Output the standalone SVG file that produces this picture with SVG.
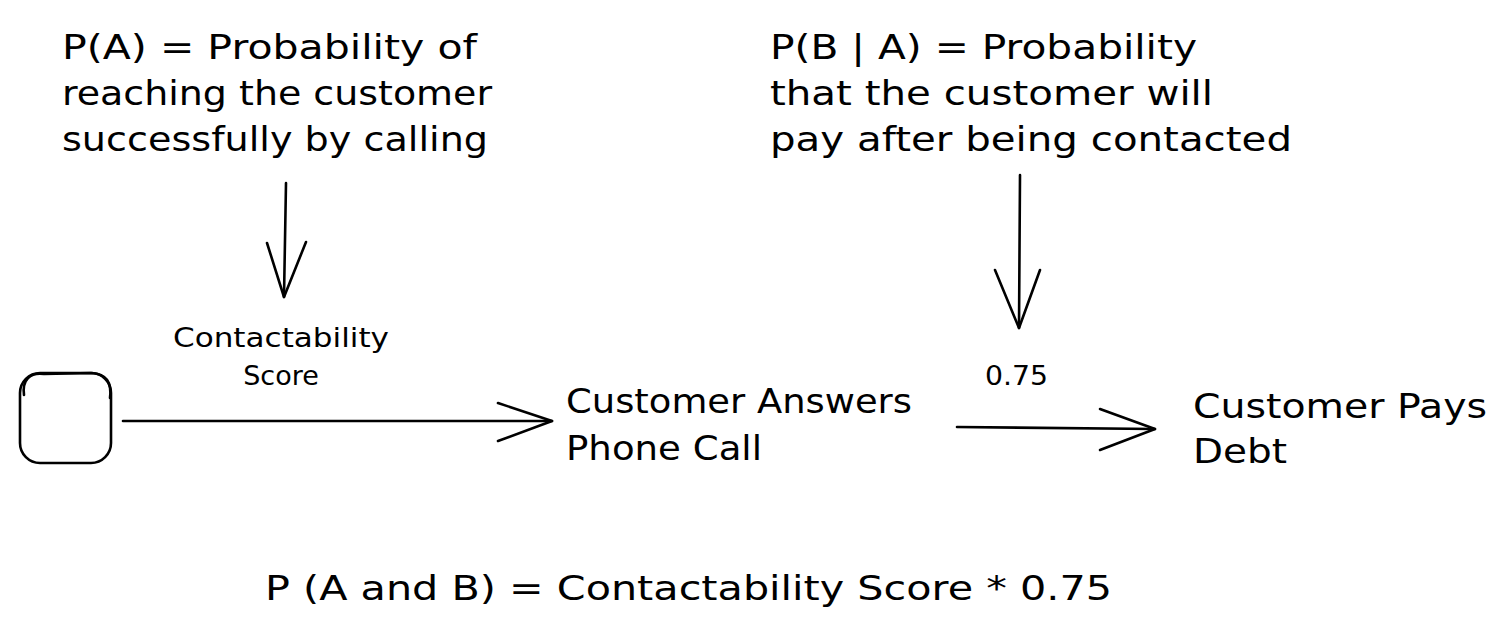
<svg xmlns="http://www.w3.org/2000/svg" width="1506" height="630" viewBox="0 0 1506 630">
<style>
.t{font-family:"DejaVu Sans","Liberation Sans",sans-serif;fill:#000000}
.big{font-size:34px}
.small{font-size:27px}
.s{fill:none;stroke:#000000;stroke-width:2.6;stroke-linecap:round;stroke-linejoin:round}
</style>
<rect width="1506" height="630" fill="#ffffff"/>
<g id="note-pa">
<text class="t big" x="62" y="59" textLength="415" lengthAdjust="spacingAndGlyphs">P(A) = Probability of</text>
<text class="t big" x="62" y="105" textLength="430" lengthAdjust="spacingAndGlyphs">reaching the customer</text>
<text class="t big" x="62" y="151" textLength="426" lengthAdjust="spacingAndGlyphs">successfully by calling</text>
</g>
<g id="note-pba">
<text class="t big" x="770" y="59" textLength="427" lengthAdjust="spacingAndGlyphs">P(B | A) = Probability</text>
<text class="t big" x="770" y="105" textLength="443" lengthAdjust="spacingAndGlyphs">that the customer will</text>
<text class="t big" x="770" y="151" textLength="522" lengthAdjust="spacingAndGlyphs">pay after being contacted</text>
</g>
<g id="start">
<rect class="s" x="20" y="373" width="91" height="90" rx="20"/>
<path class="s" d="M24 395 C22 380 30 372 44 374 L92 373 C106 374 112 382 110 398" stroke-width="1.2"/>
</g>
<g id="answers">
<text class="t big" x="566" y="413" textLength="346" lengthAdjust="spacingAndGlyphs">Customer Answers</text>
<text class="t big" x="566" y="460" textLength="196" lengthAdjust="spacingAndGlyphs">Phone Call</text>
</g>
<g id="pays">
<text class="t big" x="1193" y="418" textLength="294" lengthAdjust="spacingAndGlyphs">Customer Pays</text>
<text class="t big" x="1193" y="463" textLength="94" lengthAdjust="spacingAndGlyphs">Debt</text>
</g>
<g id="formula">
<text class="t big" x="265" y="600" textLength="847" lengthAdjust="spacingAndGlyphs">P (A and B) = Contactability Score * 0.75</text>
</g>
<g id="connectors">
<path class="s" d="M286 183 L284 297"/>
<path class="s" d="M267 243 L284 297 L306 242"/>
<path class="s" d="M1020 175 L1019 328"/>
<path class="s" d="M995 270 L1019 328 L1040 270"/>
<path class="s" d="M123 421 L552 421"/>
<path class="s" d="M498 403 L552 421 L498 441"/>
<path class="s" d="M957 427 L1155 429"/>
<path class="s" d="M1100 409 L1155 429 L1100 450"/>
<text class="t small" x="281" y="347" text-anchor="middle" textLength="216" lengthAdjust="spacingAndGlyphs">Contactability</text>
<text class="t small" x="281" y="385" text-anchor="middle">Score</text>
<text class="t small" x="985" y="385" textLength="63" lengthAdjust="spacingAndGlyphs">0.75</text>
</g>
</svg>
